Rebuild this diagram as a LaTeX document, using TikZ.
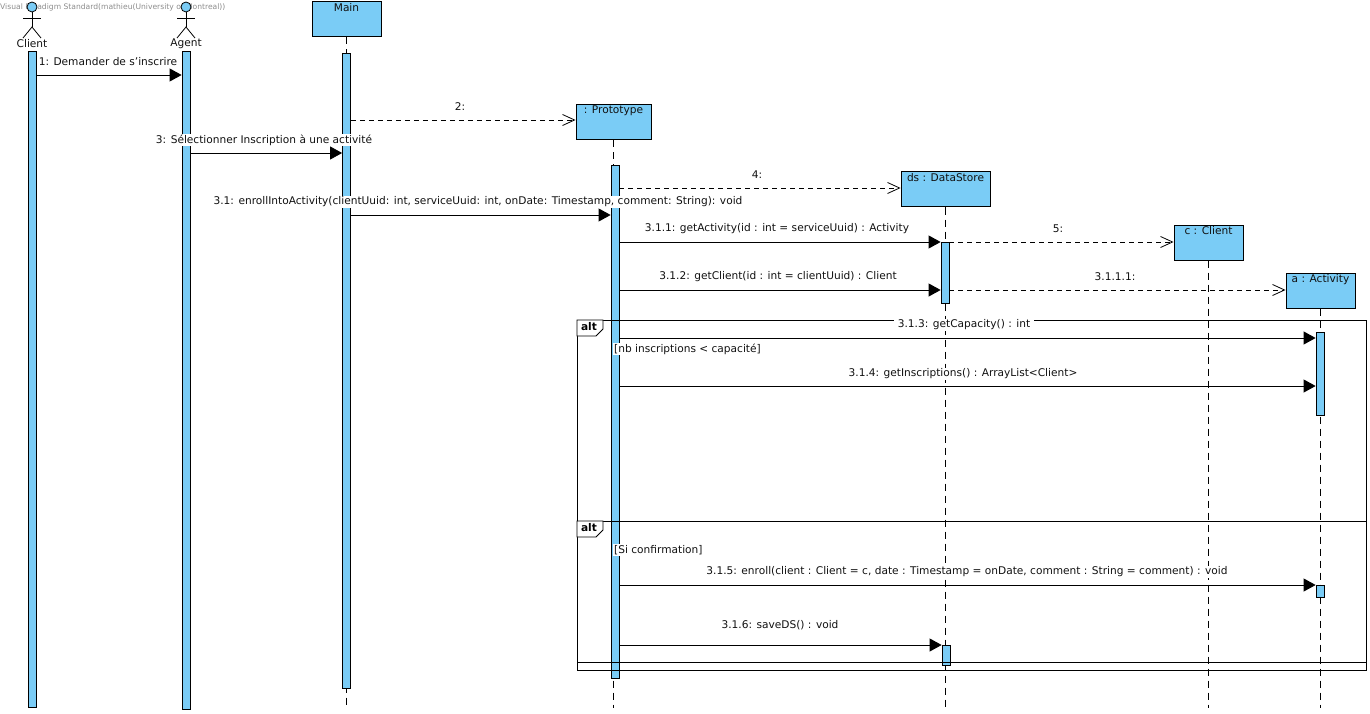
\documentclass[tikz,border=0pt]{standalone}
\usepackage{fontspec}
\setmainfont{DejaVu Sans}
\usetikzlibrary{arrows.meta}
\definecolor{lifebg}{HTML}{7ACCF6}
\definecolor{inkcolor}{HTML}{111111}
\definecolor{markcolor}{HTML}{8C8C8C}
\newcommand{\msgfont}{\fontsize{10.6}{12}\selectfont}

\tikzset{
  headbox/.style={draw=black, fill=lifebg, line width=1pt, inner sep=0pt, minimum height=35pt},
  headlabel/.style={anchor=north, font=\msgfont, text=inkcolor, inner sep=1.5pt},
  actorlabel/.style={font=\msgfont, text=inkcolor, inner sep=0pt},
  actorline/.style={line width=.8pt, draw=black},
  barbox/.style={draw=black, fill=lifebg, line width=.8pt, inner sep=0pt, minimum width=8pt},
  lifeline/.style={draw=black, line width=.8pt, dash pattern=on 7pt off 5pt},
  callmsg/.style={draw=black, line width=.8pt, -{Triangle[length=12pt,width=13pt]}},
  newmsg/.style={draw=black, line width=.8pt, dash pattern=on 5pt off 4pt, -{Straight Barb[length=12pt,width=11pt]}},
  msglabel/.style={fill=white, font=\msgfont, text=inkcolor, inner sep=1pt},
  guardlabel/.style={msglabel, anchor=west},
  framebox/.style={draw=black, line width=.8pt},
  tablabel/.style={font=\fontsize{10.6}{12}\selectfont\bfseries, text=black, inner sep=0pt}
}

\begin{document}
\begin{tikzpicture}[x=1pt, y=-1pt]
  \useasboundingbox (0,0) rectangle (1370,714);

  % === WATERMARK ===
  \node[anchor=west, font=\fontsize{7.6}{9}\selectfont, text=markcolor, inner sep=0pt] (mark) at (0,7)
    {Visual Paradigm Standard(mathieu(University of Montreal))};

  % === ACTORS ===
  \foreach \actorname/\actorx/\actortext in {client/32/Client, agent/186/Agent} {
    \begin{scope}[shift={(\actorx,0)}]
      \node[circle, draw=black, fill=lifebg, line width=.8pt, minimum size=10pt, inner sep=0pt] (\actorname head) at (0,7) {};
      \coordinate (\actorname hip) at (0,27);
      \draw[actorline] (\actorname head.south) -- (\actorname hip);
      \draw[actorline] (-9,18) -- (9,18);
      \draw[actorline] (-9,38) -- (\actorname hip) -- (9,38);
      \node[actorlabel] (\actorname) at (0,44) {\actortext};
    \end{scope}
  }

  % === OBJECT HEADS ===
  \node[headbox, minimum width=69pt, label={[headlabel]north:Main}] (main) at (346.5,19.5) {};
  \node[headbox, minimum width=75pt, label={[headlabel]north:: Prototype}] (proto) at (613.5,122.5) {};
  \node[headbox, minimum width=89pt, label={[headlabel]north:ds : DataStore}] (store) at (945.5,189.5) {};
  \node[headbox, minimum width=69pt, label={[headlabel]north:c : Client}] (cli) at (1208.5,242.5) {};
  \node[headbox, minimum width=69pt, label={[headlabel]north:a : Activity}] (act) at (1320.5,290.5) {};

  % lifelines
  \foreach \headname/\lifeend in {main/706, proto/708, store/708, cli/708, act/708} {
    \coordinate (\headname end) at (0,\lifeend);
    \draw[lifeline] (\headname.south) -- (\headname.south |- \headname end);
  }

  % === ACTIVATION BARS ===
  \node[barbox, minimum height=656pt] (barclient) at (32,379) {};
  \node[barbox, minimum height=658pt] (baragent) at (186,380) {};
  \node[barbox, minimum height=635pt] (barmain) at (346.5,370.5) {};
  \node[barbox, minimum height=513pt] (barproto) at (615,421.5) {};
  \node[barbox, minimum height=61pt] (barstore) at (945,272.5) {};
  \node[barbox, minimum height=20pt] (barsave) at (946,655) {};
  \node[barbox, minimum height=83pt] (baract) at (1320,373.5) {};
  \node[barbox, minimum height=12pt] (barenroll) at (1320,591) {};

  % === ALT FRAMES ===
  \draw[framebox] (577,320) rectangle (1366,670);
  \draw[framebox] (577,521) rectangle (1366,662);
  \draw[framebox, fill=white] (577,320) -- (603,320) -- (603,329) -- (596,336) -- (577,336) -- cycle;
  \draw[framebox, fill=white] (577,521) -- (603,521) -- (603,530) -- (596,537) -- (577,537) -- cycle;
  \node[tablabel] (altone) at (589,327) {alt};
  \node[tablabel] (alttwo) at (589,528) {alt};
  \node[guardlabel] (guardone) at (613,349) {[nb inscriptions < capacité]};
  \node[guardlabel] (guardtwo) at (613,550) {[Si confirmation]};

  % === MESSAGE LEVELS ===
  \foreach \levelname/\levely in {a/75, b/120, c/153, d/188, e/215, f/242, g/290, h/338, i/386, j/585, k/645}
    \coordinate (lev\levelname) at (0,\levely);

  % === MESSAGES ===
  \draw[callmsg] (barclient.east |- leva) -- (baragent.west |- leva);
  \draw[newmsg] (barmain.east |- levb) -- (proto.west |- levb);
  \draw[callmsg] (baragent.east |- levc) -- (barmain.west |- levc);
  \draw[newmsg] (barproto.east |- levd) -- (store.west |- levd);
  \draw[callmsg] (barmain.east |- leve) -- (barproto.west |- leve);
  \draw[callmsg] (barproto.east |- levf) -- (barstore.west |- levf);
  \draw[newmsg] (barstore.east |- levf) -- (cli.west |- levf);
  \draw[callmsg] (barproto.east |- levg) -- (barstore.west |- levg);
  \draw[newmsg] (barstore.east |- levg) -- (act.west |- levg);
  \draw[callmsg] (barproto.east |- levh) -- (baract.west |- levh);
  \draw[callmsg] (barproto.east |- levi) -- (baract.west |- levi);
  \draw[callmsg] (barproto.east |- levj) -- (barenroll.west |- levj);
  \draw[callmsg] (barproto.east |- levk) -- (barsave.west |- levk);

  % labels
  \node[msglabel] (msgone) at (108,62) {1: Demander de s'inscrire};
  \node[msglabel] (msgtwo) at (460,107) {2:};
  \node[msglabel] (msgthree) at (264,140) {3: Sélectionner Inscription à une activité};
  \node[msglabel] (msgfour) at (757,175) {4:};
  \node[msglabel] (msgenroll) at (478,202) {3.1: enrollIntoActivity(clientUuid: int, serviceUuid: int, onDate: Timestamp, comment: String): void};
  \node[msglabel] (msggetact) at (777,229) {3.1.1: getActivity(id : int = serviceUuid) : Activity};
  \node[msglabel] (msgfive) at (1058,229) {5:};
  \node[msglabel] (msggetcli) at (778,277) {3.1.2: getClient(id : int = clientUuid) : Client};
  \node[msglabel] (msgnewact) at (1115,277) {3.1.1.1:};
  \node[msglabel, inner xsep=4pt] (msgcap) at (964,325) {3.1.3: getCapacity() : int};
  \node[msglabel] (msgins) at (963,374) {3.1.4: getInscriptions() : ArrayList<Client>};
  \node[msglabel] (msgdoenroll) at (967,572) {3.1.5: enroll(client : Client = c, date : Timestamp = onDate, comment : String = comment) : void};
  \node[msglabel] (msgsave) at (780,625) {3.1.6: saveDS() : void};
\end{tikzpicture}
\end{document}
